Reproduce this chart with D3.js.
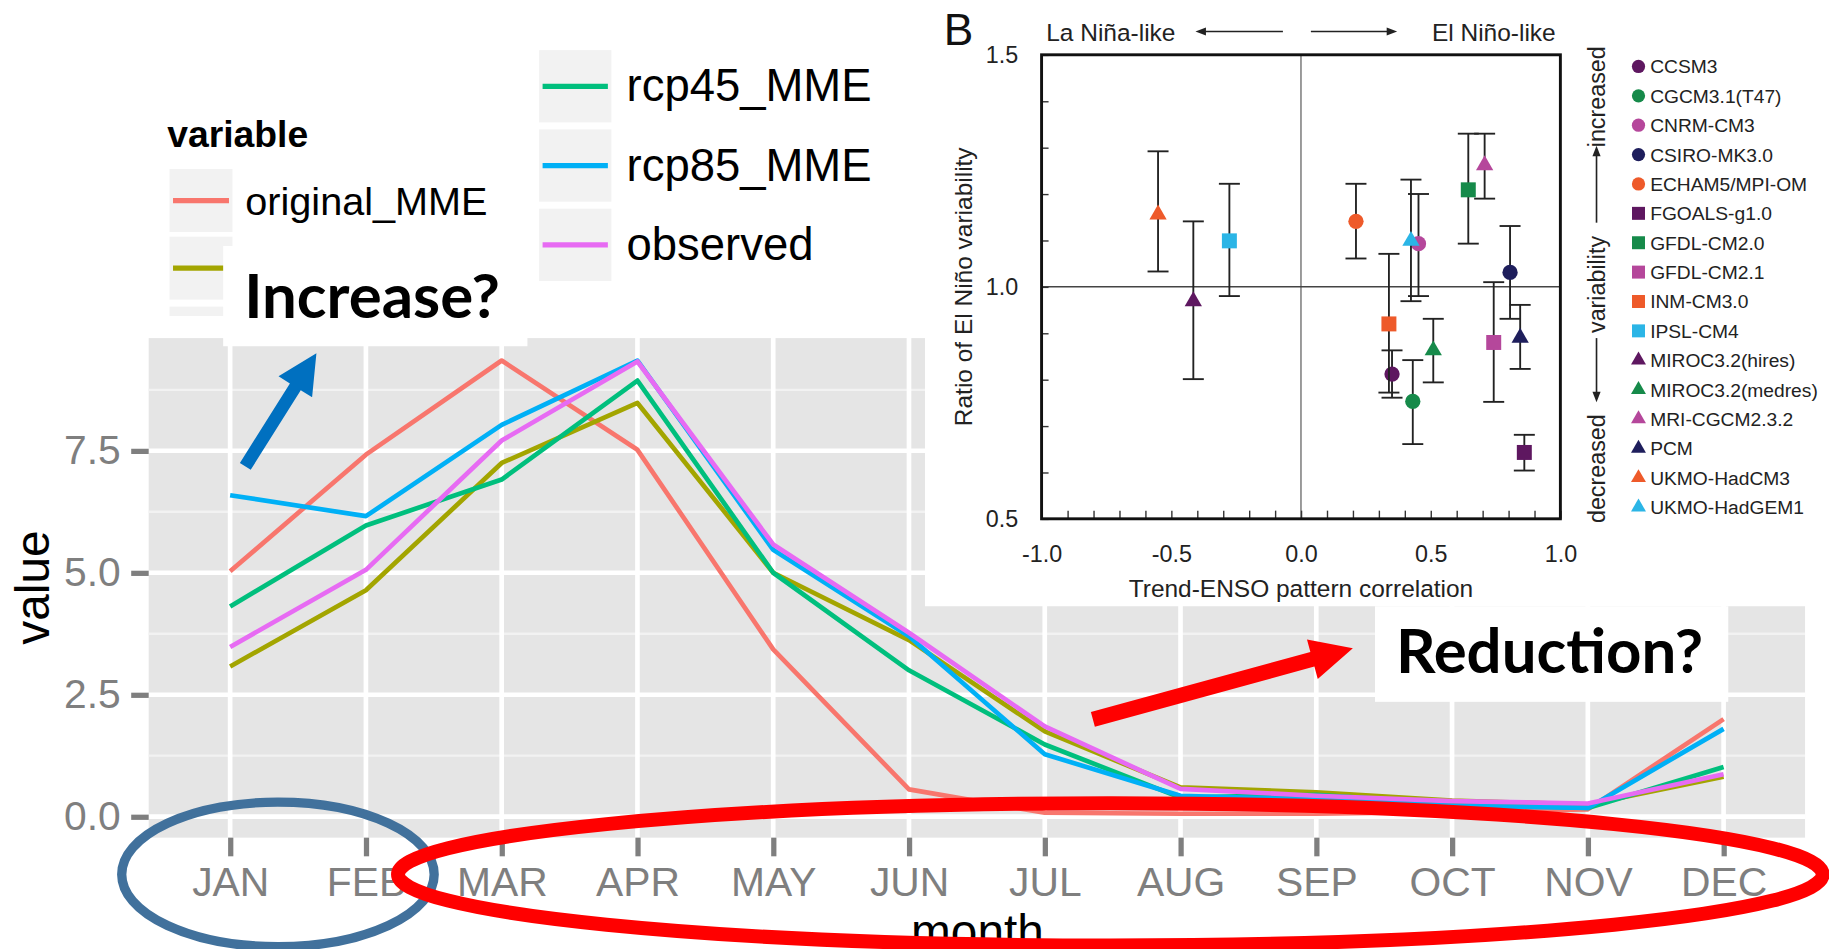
<!DOCTYPE html>
<html>
<head>
<meta charset="utf-8">
<script src="https://cdn.jsdelivr.net/npm/d3@7"></script>
<style>
html, body { margin: 0; padding: 0; background: #fff; overflow: hidden; }
svg { display: block; font-family: "Liberation Sans", Arial, sans-serif; }
</style>
</head>
<body>
<svg id="chart" width="1829" height="949" viewBox="0 0 1568 814"></svg>
<script>
// ---- main panel data (monthly values per variable) ----
var months = ["JAN", "FEB", "MAR", "APR", "MAY", "JUN", "JUL", "AUG", "SEP", "OCT", "NOV", "DEC"];
var seriesNames = ["original_MME", "rcp26_MME", "rcp45_MME", "rcp85_MME", "observed"];
var seriesColors = ["#F8766D", "#A3A500", "#00BF7D", "#00B0F6", "#E76BF3"];
var originalMME = [5.03, 7.42, 9.35, 7.52, 3.43, 0.56, 0.08, 0.06, 0.06, 0.10, 0.15, 2.00];
var rcp26MME    = [3.08, 4.64, 7.25, 8.48, 5.00, 3.62, 1.75, 0.60, 0.50, 0.33, 0.25, 0.82];
var rcp45MME    = [4.31, 5.97, 6.91, 8.94, 5.00, 3.00, 1.48, 0.39, 0.45, 0.27, 0.18, 1.02];
var rcp85MME    = [6.59, 6.16, 8.03, 9.35, 5.47, 3.70, 1.28, 0.43, 0.35, 0.22, 0.18, 1.80];
var observed    = [3.48, 5.06, 7.71, 9.33, 5.58, 3.77, 1.85, 0.57, 0.43, 0.32, 0.27, 0.87];
var yTicks = [0, 2.5, 5, 7.5];
var yMinor = [1.25, 3.75, 6.25, 8.75];

// ---- inset B data (trend-ENSO correlation vs ratio of El Nino variability) ----
var models = ["CCSM3", "CGCM3.1(T47)", "CNRM-CM3", "CSIRO-MK3.0", "ECHAM5/MPI-OM",
              "FGOALS-g1.0", "GFDL-CM2.0", "GFDL-CM2.1", "INM-CM3.0", "IPSL-CM4",
              "MIROC3.2(hires)", "MIROC3.2(medres)", "MRI-CGCM2.3.2", "PCM", "UKMO-HadCM3", "UKMO-HadGEM1"];
var modelShapes = ["circle", "circle", "circle", "circle", "circle",
                   "square", "square", "square", "square", "square",
                   "triangle", "triangle", "triangle", "triangle", "triangle", "triangle"];
var modelColors = ["#5E1760", "#168A4A", "#B5479B", "#1E1E5C", "#EE5A2A",
                   "#5E1760", "#168A4A", "#B5479B", "#EE5A2A", "#2BB5E6",
                   "#5E1760", "#168A4A", "#B5479B", "#1E1E5C", "#EE5A2A", "#2BB5E6"];
var corr    = [0.351, 0.431, 0.453, 0.806, 0.212, 0.861, 0.645, 0.743, 0.339, -0.276, -0.415, 0.510, 0.708, 0.845, -0.551, 0.424];
var ratio   = [0.812, 0.753, 1.093, 1.031, 1.141, 0.643, 1.209, 0.880, 0.920, 1.099, 0.969, 0.863, 1.262, 0.890, 1.156, 1.099];
var ratioLo = [0.761, 0.661, 0.980, 0.931, 1.061, 0.604, 1.093, 0.752, 0.772, 0.980, 0.801, 0.794, 1.190, 0.823, 1.033, 0.969];
var ratioHi = [0.863, 0.842, 1.200, 1.131, 1.222, 0.681, 1.330, 1.010, 1.071, 1.222, 1.141, 0.931, 1.330, 0.961, 1.292, 1.231];

var FONT = "Liberation Sans, Arial, sans-serif";
var svg = d3.select("#chart");
svg.append("rect").attr("width", 1568).attr("height", 814).attr("fill", "#fff");

// ================= main ggplot-style panel =================
var x = d3.scalePoint().domain(months).range([197, 1478]);
var step = x.step();
var y = d3.scaleLinear().domain([-0.43, 9.81]).range([718.5, 290]);
var pLeft = x(months[0]) - 0.6 * step, pRight = x(months[months.length - 1]) + 0.6 * step;
var pTop = y.range()[1], pBottom = y.range()[0];

svg.append("rect").attr("x", pLeft).attr("y", pTop)
    .attr("width", pRight - pLeft).attr("height", pBottom - pTop).attr("fill", "#E5E5E5");

svg.append("g").selectAll("line").data(yMinor).enter().append("line")
    .attr("x1", pLeft).attr("x2", pRight).attr("y1", y).attr("y2", y)
    .attr("stroke", "#F2F2F2").attr("stroke-width", 2);
svg.append("g").selectAll("line").data(yTicks).enter().append("line")
    .attr("x1", pLeft).attr("x2", pRight).attr("y1", y).attr("y2", y)
    .attr("stroke", "#fff").attr("stroke-width", 4);
svg.append("g").selectAll("line").data(months).enter().append("line")
    .attr("x1", x).attr("x2", x).attr("y1", pTop).attr("y2", pBottom)
    .attr("stroke", "#fff").attr("stroke-width", 4);

var seriesValues = [originalMME, rcp26MME, rcp45MME, rcp85MME, observed];
var line = d3.line().x(function(d, i) { return x(months[i]); }).y(function(d) { return y(d); });
svg.append("g").selectAll("path").data(seriesValues).enter().append("path")
    .attr("d", line).attr("fill", "none")
    .attr("stroke", function(d, i) { return seriesColors[i]; })
    .attr("stroke-width", 4).attr("stroke-linejoin", "round");

var gy = svg.append("g").attr("transform", "translate(" + pLeft + ",0)")
    .call(d3.axisLeft(y).tickValues(yTicks).tickFormat(d3.format(".1f")).tickSize(15).tickPadding(9));
gy.attr("font-family", FONT).attr("font-size", 35);
gy.select(".domain").remove();
gy.selectAll("line").attr("stroke", "#7F7F7F").attr("stroke-width", 4.5);
gy.selectAll("text").attr("fill", "#7F7F7F");

var gx = svg.append("g").attr("transform", "translate(0," + pBottom + ")")
    .call(d3.axisBottom(x).tickSize(16).tickPadding(9));
gx.attr("font-family", FONT).attr("font-size", 35);
gx.select(".domain").remove();
gx.selectAll("line").attr("stroke", "#7F7F7F").attr("stroke-width", 4.5);
gx.selectAll("text").attr("fill", "#7F7F7F");

svg.append("text").attr("transform", "translate(42,504) rotate(-90)")
    .attr("text-anchor", "middle").attr("font-size", 41).attr("fill", "#000").text("value");
svg.append("text").attr("x", 838).attr("y", 813)
    .attr("text-anchor", "middle").attr("font-size", 41).attr("fill", "#000").text("month");

// ---- legend (left column; the second label is hidden under the note box) ----
svg.append("text").attr("x", 143).attr("y", 126).attr("font-size", 32)
    .attr("font-weight", "bold").text("variable");
var legLeft = svg.append("g");
[0, 1].forEach(function(i) {
    var top = 145 + i * 58;
    legLeft.append("rect").attr("x", 145).attr("y", top).attr("width", 54).attr("height", 54).attr("fill", "#F2F2F2");
    legLeft.append("line").attr("x1", 148).attr("x2", 196).attr("y1", top + 27).attr("y2", top + 27)
        .attr("stroke", seriesColors[i]).attr("stroke-width", 4.5);
    if (i == 0) legLeft.append("text").attr("x", 210).attr("y", top + 39).attr("font-size", 34).text(seriesNames[i]);
});
legLeft.append("rect").attr("x", 145).attr("y", 263).attr("width", 54).attr("height", 8).attr("fill", "#F2F2F2");

// ---- legend (moved right column) ----
var legRight = svg.append("g");
[2, 3, 4].forEach(function(i, k) {
    var top = 43 + k * 68;
    legRight.append("rect").attr("x", 462).attr("y", top).attr("width", 62).attr("height", 62).attr("fill", "#F2F2F2");
    legRight.append("line").attr("x1", 465).attr("x2", 521).attr("y1", top + 31).attr("y2", top + 31)
        .attr("stroke", seriesColors[i]).attr("stroke-width", 4.5);
    legRight.append("text").attr("x", 537).attr("y", top + 44).attr("font-size", 39).text(seriesNames[i]);
});

// ================= inset B =================
svg.append("rect").attr("x", 793).attr("y", 0).attr("width", 775).attr("height", 520).attr("fill", "#fff");
var xB = d3.scaleLinear().domain([-1, 1]).range([893, 1338]);
var yB = d3.scaleLinear().domain([0.5, 1.5]).range([445, 47]);
var fmtB = function(d) {
    var h = d * 2;
    return Math.abs(h - Math.round(h)) < 1e-6 ? d3.format(".1f")(d).replace("\u2212", "-") : "";
};

svg.append("line").attr("x1", xB(0)).attr("x2", xB(0)).attr("y1", yB(1.5)).attr("y2", yB(0.5))
    .attr("stroke", "#555").attr("stroke-width", 1);
svg.append("line").attr("x1", xB(-1)).attr("x2", xB(1)).attr("y1", yB(1)).attr("y2", yB(1))
    .attr("stroke", "#444").attr("stroke-width", 1.3);

var gyB = svg.append("g").attr("transform", "translate(" + xB(-1) + ",0)")
    .call(d3.axisLeft(yB).ticks(10).tickSizeInner(-6).tickSizeOuter(0).tickPadding(20).tickFormat(fmtB));
gyB.attr("font-family", FONT).attr("font-size", 20);
gyB.select(".domain").remove();
gyB.selectAll("line").attr("stroke", "#333").attr("stroke-width", 1.2);
gyB.selectAll("text").attr("fill", "#222");

var gxB = svg.append("g").attr("transform", "translate(0," + yB(0.5) + ")")
    .call(d3.axisBottom(xB).ticks(20).tickSizeInner(-7).tickSizeOuter(0).tickPadding(23).tickFormat(fmtB));
gxB.attr("font-family", FONT).attr("font-size", 20);
gxB.select(".domain").remove();
gxB.selectAll("line").attr("stroke", "#333").attr("stroke-width", 1.2);
gxB.selectAll("text").attr("fill", "#222");

svg.append("rect").attr("x", xB(-1)).attr("y", yB(1.5))
    .attr("width", xB(1) - xB(-1)).attr("height", yB(0.5) - yB(1.5))
    .attr("fill", "none").attr("stroke", "#111").attr("stroke-width", 2.5);

var symbolType = { circle: d3.symbolCircle, square: d3.symbolSquare, triangle: d3.symbolTriangle };
var symbolSize = { circle: 135, square: 165, triangle: 95 };

var pts = svg.append("g").selectAll("g").data(models).enter().append("g");
pts.append("line")
    .attr("x1", function(d, i) { return xB(corr[i]); }).attr("x2", function(d, i) { return xB(corr[i]); })
    .attr("y1", function(d, i) { return yB(ratioLo[i]); }).attr("y2", function(d, i) { return yB(ratioHi[i]); })
    .attr("stroke", "#222").attr("stroke-width", 1.6);
["lo", "hi"].forEach(function(end) {
    pts.append("line")
        .attr("x1", function(d, i) { return xB(corr[i]) - 9; }).attr("x2", function(d, i) { return xB(corr[i]) + 9; })
        .attr("y1", function(d, i) { return yB(end == "lo" ? ratioLo[i] : ratioHi[i]); })
        .attr("y2", function(d, i) { return yB(end == "lo" ? ratioLo[i] : ratioHi[i]); })
        .attr("stroke", "#222").attr("stroke-width", 1.6);
});
pts.append("path")
    .attr("d", function(d, i) { return d3.symbol().type(symbolType[modelShapes[i]]).size(symbolSize[modelShapes[i]])(); })
    .attr("transform", function(d, i) { return "translate(" + xB(corr[i]) + "," + yB(ratio[i]) + ")"; })
    .attr("fill", function(d, i) { return modelColors[i]; });

// inset legend
var legB = svg.append("g").selectAll("g").data(models).enter().append("g")
    .attr("transform", function(d, i) { return "translate(1405," + (57 + i * 25.2) + ")"; });
legB.append("path")
    .attr("d", function(d, i) { return d3.symbol().type(symbolType[modelShapes[i]]).size(symbolSize[modelShapes[i]] * 0.75)(); })
    .attr("fill", function(d, i) { return modelColors[i]; });
legB.append("text").attr("x", 10).attr("dy", "0.36em").attr("font-size", 16.5).attr("fill", "#222")
    .text(function(d) { return d; });

// inset titles
svg.append("text").attr("x", 809).attr("y", 38.5).attr("font-size", 38).attr("fill", "#111").text("B");
svg.append("text").attr("x", 897).attr("y", 35).attr("font-size", 21).attr("fill", "#222").text("La Ni\u00f1a-like");
svg.append("text").attr("x", 1334).attr("y", 35).attr("text-anchor", "end").attr("font-size", 21).attr("fill", "#222").text("El Ni\u00f1o-like");
svg.append("text").attr("x", xB(0)).attr("y", 512).attr("text-anchor", "middle").attr("font-size", 21)
    .attr("fill", "#222").text("Trend-ENSO pattern correlation");
svg.append("text").attr("transform", "translate(826," + yB(1) + ") rotate(-90)").attr("dy", "0.35em")
    .attr("text-anchor", "middle").attr("font-size", 21).attr("fill", "#222").text("Ratio of El Ni\u00f1o variability");

function thinArrow(g, x1, y1, x2, y2) {
    var a = Math.atan2(y2 - y1, x2 - x1), L = 9, w = 3.5;
    g.append("line").attr("x1", x1).attr("y1", y1).attr("x2", x2 - L * 0.6 * Math.cos(a)).attr("y2", y2 - L * 0.6 * Math.sin(a))
        .attr("stroke", "#222").attr("stroke-width", 1.4);
    var bx = x2 - L * Math.cos(a), by = y2 - L * Math.sin(a);
    g.append("path").attr("d", "M" + x2 + "," + y2 + "L" + (bx - w * Math.sin(a)) + "," + (by + w * Math.cos(a)) +
        "L" + (bx + w * Math.sin(a)) + "," + (by - w * Math.cos(a)) + "Z").attr("fill", "#222");
}
thinArrow(svg, 1100, 27, 1025, 27);
thinArrow(svg, 1124, 27, 1198, 27);

var side = svg.append("g").attr("transform", "translate(1369,249) rotate(-90)");
side.append("text").attr("x", 166).attr("dy", "0.35em").attr("text-anchor", "middle").attr("font-size", 20).attr("fill", "#222").text("increased");
side.append("text").attr("x", 5).attr("dy", "0.35em").attr("text-anchor", "middle").attr("font-size", 20).attr("fill", "#222").text("variability");
side.append("text").attr("x", -153).attr("dy", "0.35em").attr("text-anchor", "middle").attr("font-size", 20).attr("fill", "#222").text("decreased");
thinArrow(side, 58, 0, 124, 0);
thinArrow(side, -41, 0, -96, 0);

// ================= annotations =================
svg.append("rect").attr("x", 191).attr("y", 211).attr("width", 261).attr("height", 86).attr("fill", "#fff");
svg.append("text").attr("x", 209).attr("y", 273).attr("font-family", "Lato, 'Liberation Sans', sans-serif")
    .attr("font-weight", "bold").attr("font-size", 53).attr("fill", "#000").text("Increase?");
svg.append("rect").attr("x", 1179).attr("y", 520).attr("width", 303).attr("height", 82).attr("fill", "#fff");
svg.append("text").attr("x", 1197).attr("y", 577).attr("font-family", "Lato, 'Liberation Sans', sans-serif")
    .attr("font-weight", "bold").attr("font-size", 53).attr("fill", "#000").text("Reduction?");

function blockArrow(x1, y1, x2, y2, shaft, headW, headL, color) {
    var dx = x2 - x1, dy = y2 - y1, len = Math.sqrt(dx * dx + dy * dy);
    var ux = dx / len, uy = dy / len, nx = -uy, ny = ux;
    var bx = x2 - ux * headL, by = y2 - uy * headL;
    var p = [
        [x1 + nx * shaft / 2, y1 + ny * shaft / 2], [bx + nx * shaft / 2, by + ny * shaft / 2],
        [bx + nx * headW / 2, by + ny * headW / 2], [x2, y2],
        [bx - nx * headW / 2, by - ny * headW / 2], [bx - nx * shaft / 2, by - ny * shaft / 2],
        [x1 - nx * shaft / 2, y1 - ny * shaft / 2]
    ];
    svg.append("path").attr("d", d3.line()(p) + "Z").attr("fill", color);
}
blockArrow(210, 400, 271, 303, 11, 34, 34, "#0070C0");
blockArrow(937, 617, 1160, 556, 13, 35, 36, "#FF0000");

svg.append("ellipse").attr("cx", 238).attr("cy", 750).attr("rx", 134).attr("ry", 62)
    .attr("fill", "none").attr("stroke", "#41719C").attr("stroke-width", 8);
svg.append("ellipse").attr("cx", 952).attr("cy", 750).attr("rx", 611).attr("ry", 61)
    .attr("fill", "none").attr("stroke", "#FF0000").attr("stroke-width", 12);
</script>
</body>
</html>
